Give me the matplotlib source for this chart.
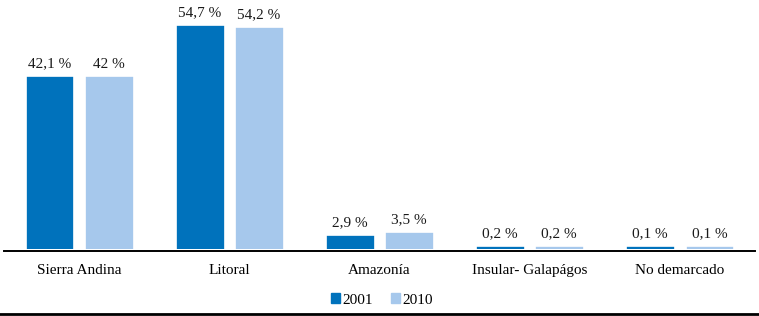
import matplotlib
matplotlib.use("Agg")
import matplotlib.pyplot as plt
import numpy as np
from matplotlib.patches import Patch
from matplotlib.lines import Line2D

categories = ["Sierra Andina", "Litoral", "Amazonía", "Insular- Galapágos", "No demarcado"]
series_names = ["2001", "2010"]
values_2001 = [42.1, 54.7, 2.9, 0.2, 0.1]
values_2010 = [42.0, 54.2, 3.5, 0.2, 0.1]
labels_2001 = ["42,1 %", "54,7 %", "2,9 %", "0,2 %", "0,1 %"]
labels_2010 = ["42 %", "54,2 %", "3,5 %", "0,2 %", "0,1 %"]

c_dark = "#0072BC"
c_light = "#A6C8EC"

plt.rcParams['font.family'] = ['Liberation Serif', 'DejaVu Serif']

fig = plt.figure(figsize=(7.59, 3.16), dpi=100)
ax = fig.add_axes([4/759, 67.5/316, 751/759, 248.5/316])

x = np.arange(len(categories))
w = 0.292
off = 0.197
b1 = ax.bar(x - off, values_2001, w, color=c_dark, edgecolor=c_dark, linewidth=2.4)
b2 = ax.bar(x + off, values_2010, w, color=c_light, edgecolor=c_light, linewidth=2.4)

for bars, labs in ((b1, labels_2001), (b2, labels_2010)):
    for r, t in zip(bars, labs):
        ax.annotate(t, (r.get_x() + r.get_width()/2, r.get_height()),
                    xytext=(0, 5.5), textcoords="offset points",
                    ha="center", va="bottom", fontsize=11, color="#1a1a1a")

ax.set_xlim(-0.5, len(categories) - 0.5)
ax.set_ylim(0, 61.3)
ax.set_xticks(x)
ax.set_xticklabels(categories, color="#1a1a1a")
ax.tick_params(axis="x", length=0, pad=9.5, labelsize=11)
ax.set_yticks([])
for s in ["top", "right", "left"]:
    ax.spines[s].set_visible(False)
ax.spines["bottom"].set_position(("outward", 1.95))
ax.spines["bottom"].set_linewidth(1.4)
ax.spines["bottom"].set_color("#000000")

handles = [Patch(facecolor=c_dark, edgecolor=c_dark), Patch(facecolor=c_light, edgecolor=c_light)]
fig.legend(handles, series_names, loc="center", bbox_to_anchor=(382/759, 1 - 300/316),
           ncol=2, frameon=False, fontsize=11, handlelength=0.6, handleheight=0.6,
           handletextpad=0.15, columnspacing=1.2)

fig.add_artist(Line2D([0, 1], [2/316, 2/316], color="black", linewidth=2.0, transform=fig.transFigure))

fig.savefig("out.png", dpi=100)
